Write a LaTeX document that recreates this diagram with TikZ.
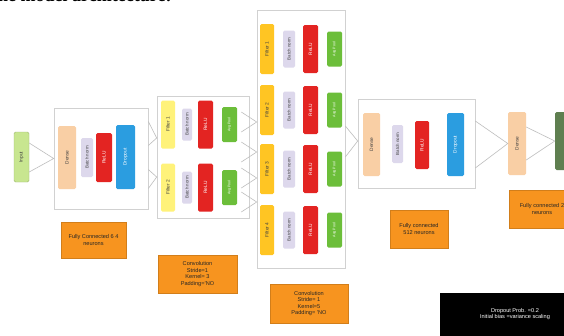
\documentclass[tikz,border=0pt]{standalone}
\usepackage{fontspec}
\setmainfont{Liberation Sans}
\newfontfamily\titlefont{Liberation Serif}
\usetikzlibrary{calc}
\definecolor{inpc}{HTML}{C8E690}
\definecolor{densec}{HTML}{F9CFA5}
\definecolor{bnc}{HTML}{DDD8EC}
\definecolor{reluc}{HTML}{E32422}
\definecolor{dropc}{HTML}{2B9DE0}
\definecolor{filtac}{HTML}{FFF27A}
\definecolor{filtbc}{HTML}{FFC523}
\definecolor{poolc}{HTML}{6CBE3A}
\definecolor{orc}{HTML}{F7941F}
\definecolor{smc}{HTML}{5F7F50}
\definecolor{linec}{HTML}{BEBEBE}
\tikzset{
  blk/.style={draw=black!18, line width=0.6pt, fill=white, inner sep=0pt},
  el/.style={rounded corners=1.5pt, inner sep=0pt, font=\fontsize{4.8}{5}\selectfont, text=black!75},
  inp/.style={el, fill=inpc, draw=inpc!80!black},
  dns/.style={el, fill=densec},
  bn/.style={el, fill=bnc, font=\fontsize{4.4}{5}\selectfont},
  rl/.style={el, fill=reluc, text=white},
  dp/.style={el, fill=dropc, text=white},
  fa/.style={el, fill=filtac},
  fb/.style={el, fill=filtbc},
  pl/.style={el, fill=poolc, text=white, font=\fontsize{3.6}{4}\selectfont},
  sm/.style={el, fill=smc, text=white},
  ornote/.style={fill=orc, draw=orc!85!black, line width=0.4pt, inner sep=0pt, align=center,
     font=\fontsize{5.6}{6.6}\selectfont, text=black!85},
  conn/.style={draw=linec, line width=0.6pt},
}
\newcommand\elem[7]{\node[#6, minimum width=#4pt, minimum height=#5pt] (#1) at (#2,#3) {\rotatebox{90}{#7}};}
\newcommand\boxat[5]{\node[#5, minimum width=#3pt, minimum height=#4pt] (#1) at (#2) {};}
\begin{document}
\begin{tikzpicture}[x=1pt,y=-1pt]
\useasboundingbox (0,0) rectangle (564,335);
\clip (0,0) rectangle (564,335);
\fill[white] (0,0) rectangle (564,335);
% title (cut off)
\node[anchor=base west, inner sep=0pt, font=\titlefont\bfseries\fontsize{18}{20}\selectfont] (title) at (-8,1.0) {the model architecture:};

% block 1: fully connected 64
\boxat{blk1}{101,158.5}{94}{101}{blk}
\elem{input}{21.5}{157}{15}{50}{inp}{Input}
\elem{dense1}{67}{157.5}{18}{63}{dns}{Dense}
\elem{bn1}{87}{157.5}{12}{39}{bn}{Batch norm}
\elem{relu1}{104}{157.5}{16}{49}{rl}{ReLU}
\elem{drop1}{125.5}{157}{19}{64}{dp}{Dropout}
\node[ornote, minimum width=65pt, minimum height=36pt] (note1) at (93.5,240) {Fully Connected 6 4\\neurons};

% block 2: convolution, 2 filters
\boxat{blk2}{203,157}{92}{122}{blk}
\foreach \i/\c in {1/124.5, 2/187.5}{
  \elem{fa\i}{168}{\c}{14}{48}{fa}{Filter \i}
  \elem{bna\i}{187}{\c}{10}{32}{bn}{Batch norm}
  \elem{rla\i}{205.5}{\c}{15}{48}{rl}{ReLU}
  \elem{pla\i}{229.5}{\c}{15}{35}{pl}{Avg Pool}
}
\node[ornote, minimum width=79pt, minimum height=38pt] (note2) at (197.5,274) {Convolution\\Stride=1\\Kernel= 3\\Padding='NO};

% block 3: convolution, 4 filters
\boxat{blk3}{301,139}{88}{258}{blk}
\foreach \i/\c in {1/49, 2/110, 3/169, 4/230}{
  \elem{fb\i}{267}{\c}{14}{50}{fb}{Filter \i}
  \elem{bnb\i}{289}{\c}{12}{37}{bn}{Batch norm}
  \elem{rlb\i}{310.5}{\c}{15}{48}{rl}{ReLU}
  \elem{plb\i}{334.5}{\c}{15}{35}{pl}{Avg Pool}
}
\node[ornote, minimum width=78pt, minimum height=39pt] (note3) at (309,303.5) {Convolution\\Stride= 1\\Kernel=5\\Padding= 'NO};

% block 4: fully connected 512
\boxat{blk4}{416.5,143.5}{117}{89}{blk}
\elem{dense4}{371.5}{144.5}{17}{63}{dns}{Dense}
\elem{bn4}{397.5}{144}{11}{38}{bn}{Batch norm}
\elem{relu4}{422}{145}{14}{48}{rl}{ReLU}
\elem{drop4}{455.5}{144.5}{17}{63}{dp}{Dropout}
\node[ornote, minimum width=58pt, minimum height=38pt] (note4) at (419,229) {Fully connected\\512 neurons};

% output
\elem{dense5}{517}{143.5}{18}{63}{dns}{Dense}
\elem{soft}{566}{141}{22}{58}{sm}{Softmax}
\node[ornote, minimum width=66pt, minimum height=38pt, text width=64pt] (note5) at (542,209) {Fully connected 2\\neurons};

% legend
\node[fill=black, minimum width=150pt, minimum height=52pt, inner sep=0pt] (legend) at (515,319) {};
\node[text=white, align=center, inner sep=0pt, font=\fontsize{5.6}{6.4}\selectfont] (legendtxt) at (515,314)
  {Dropout Prob. =0.2\\Initial bias =variance scaling};

% connectors
\coordinate (c1) at (blk1.west);
\draw[conn] ($(input.east)+(0,-14)$) -- (c1) -- ($(input.east)+(0,15)$);

\coordinate (c2a) at ($(blk2.west)+(0,-19)$);
\coordinate (c2b) at ($(blk2.west)+(0,20)$);
\draw[conn] ($(blk1.east)+(0,-37)$) -- (c2a) -- ($(blk1.east)+(0,-13)$);
\draw[conn] ($(blk1.east)+(0,11)$) -- (c2b) -- ($(blk1.east)+(0,30)$);

\foreach \k/\y in {a/122, b/152, c/178, d/202}{
  \coordinate (c3\k) at (blk3.west |- 0,\y);
  \draw[conn] ($(blk2.east |- 0,\y)+(-8,-10)$) -- (c3\k) -- ($(blk2.east |- 0,\y)+(-8,10)$);
}

\coordinate (c4) at (blk4.west |- 0,141);
\draw[conn] (blk3.east |- 0,126) -- (c4) -- (blk3.east |- 0,157);

\draw[conn] (blk4.east |- 0,121) -- (dense5.west) -- (blk4.east |- 0,168);
\draw[conn] (dense5.east |- 0,127) -- (soft.west) -- (dense5.east |- 0,160);
\end{tikzpicture}
\end{document}
